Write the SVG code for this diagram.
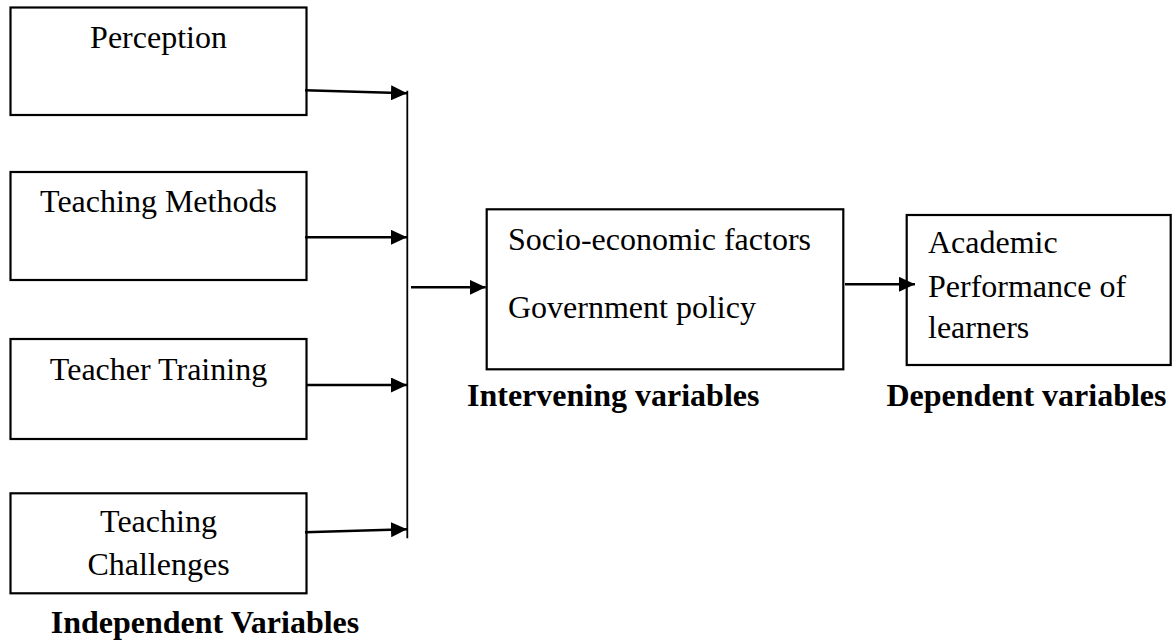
<svg xmlns="http://www.w3.org/2000/svg" width="1174" height="642" viewBox="0 0 1174 642">
<style>
.box{fill:#fff;stroke:#000;stroke-width:2.2}
.t{font-family:"Liberation Serif","Times New Roman",serif;font-size:32px;fill:#000}
.c{text-anchor:middle}
.b{font-weight:bold}
.ln{stroke:#000;stroke-width:2.4;fill:none}
</style>
<defs>
<marker id="ah" markerUnits="userSpaceOnUse" markerWidth="17" markerHeight="15" refX="16" refY="7.5" orient="auto">
<path d="M0,0 L16,7.5 L0,15 Z" fill="#000"/>
</marker>
</defs>
<rect width="1174" height="642" fill="#fff"/>
<g id="node-perception">
<rect class="box" x="10.5" y="7.5" width="296" height="107.5"/>
<text class="t c" x="158.5" y="48.3">Perception</text>
</g>
<g id="node-teaching-methods">
<rect class="box" x="10.5" y="172" width="296" height="108"/>
<text class="t c" x="158.5" y="211.7">Teaching Methods</text>
</g>
<g id="node-teacher-training">
<rect class="box" x="10.5" y="339" width="296" height="100"/>
<text class="t c" x="158.5" y="380">Teacher Training</text>
</g>
<g id="node-teaching-challenges">
<rect class="box" x="10.5" y="493.3" width="296" height="100"/>
<text class="t c" x="158.5" y="532.3">Teaching</text>
<text class="t c" x="158.5" y="575">Challenges</text>
</g>
<g id="node-intervening">
<rect class="box" x="486.7" y="209.3" width="356.6" height="160"/>
<text class="t" x="508" y="250">Socio-economic factors</text>
<text class="t" x="508" y="318">Government policy</text>
</g>
<g id="node-dependent">
<rect class="box" x="906.7" y="215" width="264" height="150"/>
<text class="t" x="928" y="253">Academic</text>
<text class="t" x="928" y="297">Performance of</text>
<text class="t" x="928" y="338">learners</text>
</g>
<g id="labels">
<text class="t b c" x="205" y="633">Independent Variables</text>
<text class="t b" x="467" y="406">Intervening variables</text>
<text class="t b" x="886.5" y="406">Dependent variables</text>
</g>
<g id="connectors">
<line class="ln" x1="407.3" y1="90.7" x2="407.3" y2="538.3" style="stroke-width:1.8"/>
<line class="ln" x1="305" y1="90.3" x2="407" y2="93.3" marker-end="url(#ah)"/>
<line class="ln" x1="305" y1="237.3" x2="407" y2="237.3" marker-end="url(#ah)"/>
<line class="ln" x1="307" y1="385" x2="407" y2="385" marker-end="url(#ah)"/>
<line class="ln" x1="305" y1="532.3" x2="407" y2="529.3" marker-end="url(#ah)"/>
<line class="ln" x1="411" y1="287.3" x2="485.7" y2="287.3" marker-end="url(#ah)"/>
<line class="ln" x1="845" y1="284.3" x2="915" y2="284.3" marker-end="url(#ah)"/>
</g>
</svg>
